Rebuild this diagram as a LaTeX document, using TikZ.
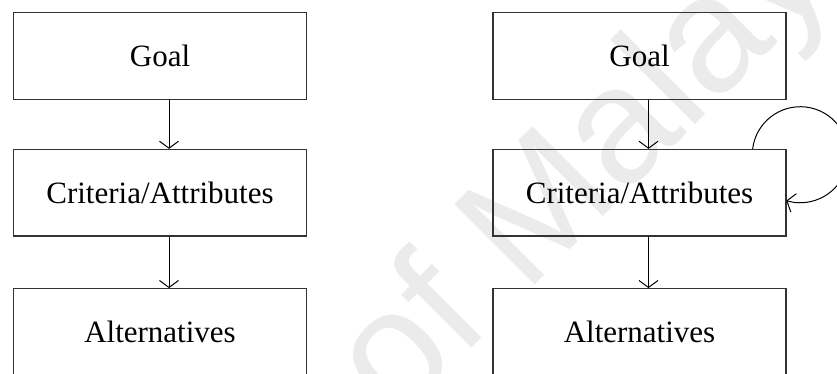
\documentclass[tikz,border=0pt]{standalone}
\usepackage{fontspec}
\setmainfont{Liberation Serif}
\newfontfamily\wmfont{Liberation Sans}
\usetikzlibrary{arrows.meta}

\tikzset{
  stagebox/.style={draw=black!80, line width=1.3pt, minimum width=293pt, minimum height=86.5pt,
    inner sep=0pt, font=\fontsize{31}{37}\selectfont},
  flowarrow/.style={line width=1pt, -{Straight Barb[length=7pt, width=19pt, line width=1pt]}},
  watermark/.style={text=black!8, font=\wmfont\fontsize{165}{165}\selectfont, inner sep=0pt}
}

\begin{document}
\begin{tikzpicture}[x=1pt, y=1pt]
  \clip (0,0) rectangle (837,-373);

  % faint background watermark
  \node[watermark, anchor=base west, rotate=45] (wm) at (396,-424) {of Malaya};

  % left hierarchy
  \node[stagebox] (g1) at (160,-56)    {Goal};
  \node[stagebox] (c1) at (160,-192.75) {Criteria/Attributes};
  \node[stagebox] (a1) at (160,-332)   {Alternatives};

  % right hierarchy with feedback among criteria
  \node[stagebox] (g2) at (639.5,-56)    {Goal};
  \node[stagebox] (c2) at (639.5,-192.75) {Criteria/Attributes};
  \node[stagebox] (a2) at (639.5,-332)   {Alternatives};

  \draw[flowarrow] ([xshift=9pt]g1.south) -- ([xshift=9pt]c1.north);
  \draw[flowarrow] ([xshift=9pt]c1.south) -- ([xshift=9pt]a1.north);
  \draw[flowarrow] ([xshift=9pt]g2.south) -- ([xshift=9pt]c2.north);
  \draw[flowarrow] ([xshift=9pt]c2.south) -- ([xshift=9pt]a2.north);

  % self-loop on the criteria node
  \draw[flowarrow] ([xshift=-34pt]c2.north east) arc[start angle=173, end angle=-107, radius=48pt];
\end{tikzpicture}
\end{document}
